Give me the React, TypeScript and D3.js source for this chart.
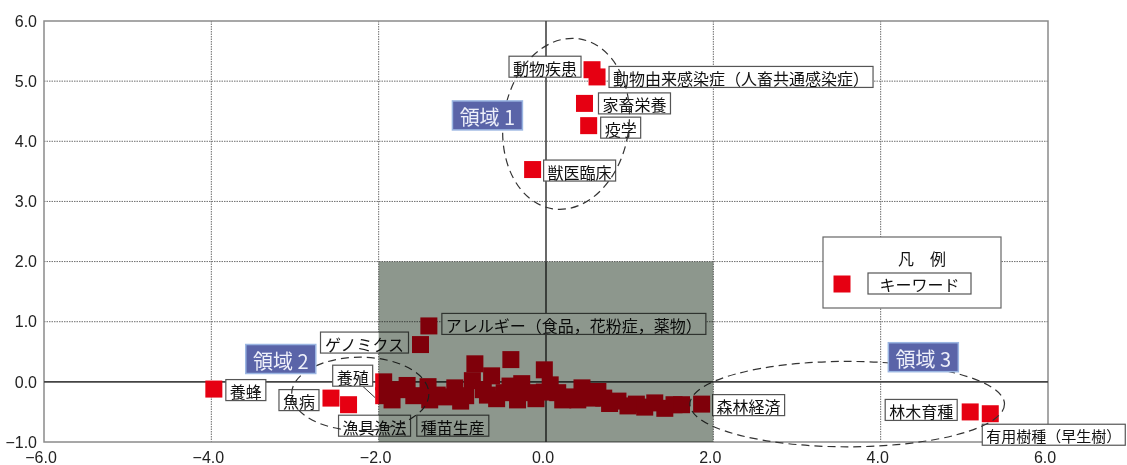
import React, { useEffect } from 'react';
import * as d3 from 'd3';

// chart data
const xTicks = [-6, -4, -2, 0, 2, 4, 6];
const yTicks = [-1, 0, 1, 2, 3, 4, 5, 6];

const keywords = [
  { name: '動物疾患', x: 0.55, y: 5.19 },
  { name: '動物由来感染症（人畜共通感染症）', x: 0.61, y: 5.07 },
  { name: '家畜栄養', x: 0.46, y: 4.63 },
  { name: '疫学', x: 0.51, y: 4.26 },
  { name: '獣医臨床', x: -0.16, y: 3.53 },
  { name: '養蜂', x: -3.97, y: -0.12 },
  { name: '魚病', x: -2.57, y: -0.27 },
  { name: '漁具漁法', x: -2.36, y: -0.38 },
  { name: '養殖', x: -1.94, y: -0.23 },
  { name: '種苗生産', x: -1.58, y: -0.23 },
  { name: 'ゲノミクス', x: -1.5, y: 0.62 },
  { name: 'アレルギー（食品，花粉症，薬物）', x: -1.4, y: 0.93 },
  { name: '森林経済', x: 1.86, y: -0.37 },
  { name: '林木育種', x: 5.07, y: -0.5 },
  { name: '有用樹種（早生樹）', x: 5.31, y: -0.53 },
];

// unlabeled keywords in the central cluster (overlapping markers, read approx.)
const clusterPoints: [number, number][] = [
  [-1.94, 0.0], [-1.77, -0.13], [-1.41, -0.08], [-1.2, -0.25], [-1.09, -0.1],
  [-0.96, -0.23], [-0.85, 0.3], [-0.88, 0.02], [-0.75, -0.13], [-0.65, 0.1],
  [-0.59, -0.28], [-0.42, 0.37], [-0.43, -0.07], [-0.29, -0.03], [-0.22, -0.18],
  [-0.02, 0.2], [-0.02, -0.17], [0.14, -0.18], [0.29, -0.25], [0.43, -0.1],
  [0.55, -0.27], [0.69, -0.27], [0.86, -0.32], [1.08, -0.37], [1.3, -0.35],
  [1.53, -0.38], [1.62, -0.38], [-1.39, -0.3],
  [-1.84, -0.3], [-1.66, -0.06], [-1.3, -0.22], [-1.02, -0.32], [-0.7, -0.22],
  [-0.5, -0.18], [-0.34, -0.3], [-0.12, -0.28], [0.05, -0.05], [0.2, -0.3],
  [0.38, -0.3], [0.62, -0.16], [0.76, -0.36], [0.98, -0.4], [1.18, -0.42], [1.42, -0.44],
];

const regions = [
  { name: '領域 1', x: -0.7, y: 4.43 },
  { name: '領域 2', x: -3.17, y: 0.38 },
  { name: '領域 3', x: 4.51, y: 0.41 },
];

// dashed ellipses round each region (centre, radii in data units, tilt)
const regionEllipses = [
  { cx: 0.24, cy: 4.29, rx: 0.75, ry: 1.43, rot: 9 },
  { cx: -2.22, cy: -0.2, rx: 0.82, ry: 0.61, rot: 0 },
  { cx: 3.6, cy: -0.37, rx: 1.88, ry: 0.71, rot: 0 },
];

const highlight = { x0: -2, x1: 2, y0: -1, y1: 2 };
const legendTitle = '凡　例';
const legendLabel = 'キーワード';

// label placement, relative to the marker centre (px)
const labelLayout: Record<string, { dx: number; dy: number; anchor: 'start' | 'end'; leader?: boolean; fs?: number }> = {
  '動物疾患': { dx: -11, dy: -3, anchor: 'end' },
  '動物由来感染症（人畜共通感染症）': { dx: 12, dy: 0, anchor: 'start' },
  '家畜栄養': { dx: 14, dy: 0, anchor: 'start' },
  '疫学': { dx: 12, dy: 2, anchor: 'start' },
  '獣医臨床': { dx: 11, dy: 1, anchor: 'start' },
  '養蜂': { dx: 12, dy: 1, anchor: 'start' },
  '魚病': { dx: -12, dy: 2, anchor: 'end' },
  '漁具漁法': { dx: -10, dy: 21, anchor: 'start' },
  '養殖': { dx: -11, dy: -20, anchor: 'end', leader: true },
  '種苗生産': { dx: 3, dy: 30, anchor: 'start' },
  'ゲノミクス': { dx: -12, dy: -2, anchor: 'end' },
  'アレルギー（食品，花粉症，薬物）': { dx: 13, dy: -2, anchor: 'start' },
  '森林経済': { dx: 11, dy: 1, anchor: 'start' },
  '林木育種': { dx: -13, dy: -2, anchor: 'end' },
  '有用樹種（早生樹）': { dx: -8, dy: 21, anchor: 'start', fs: 15 },
};

const W = 1127;
const H = 465;
const plot = { left: 44, right: 1048, top: 21, bottom: 442 };
const SQ = 17;
const RED = '#e60012';
const FONT_JP = '"Noto Sans CJK JP", sans-serif';
const FS = 16;

const textWidth = (s: string, fs: number) =>
  Array.from(s).reduce((w, c) => w + (c.charCodeAt(0) > 255 ? fs : fs * 0.55), 0);

const App: React.FC = () => {
  useEffect(() => {
    document.body.style.margin = '0';
  }, []);

  const x = d3.scaleLinear().domain([-6, 6]).range([plot.left, plot.right]);
  const y = d3.scaleLinear().domain([-1, 6]).range([plot.bottom, plot.top]);

  const labelBox = (name: string, px: number, py: number) => {
    const l = labelLayout[name];
    const fs = l.fs ?? FS;
    const w = textWidth(name, fs) + 8;
    const h = 21;
    const cy = py + l.dy;
    const bx = l.anchor === 'start' ? px + l.dx : px + l.dx - w;
    return { bx, by: cy - h / 2, w, h, cy, fs, leader: l.leader };
  };

  return (
    <svg width={W} height={H} style={{ display: 'block' }}>
      <rect width={W} height={H} fill="#ffffff" />

      {/* grid */}
      {yTicks.filter(t => t !== 0 && t !== -1 && t !== 6).map(t => (
        <line key={'gy' + t} x1={plot.left} x2={plot.right} y1={y(t)} y2={y(t)}
          stroke="#6e6e6e" strokeWidth={1} strokeDasharray="1.5 1" />
      ))}
      {xTicks.filter(t => t !== 0 && Math.abs(t) !== 6).map(t => (
        <line key={'gx' + t} x1={x(t)} x2={x(t)} y1={plot.top} y2={plot.bottom}
          stroke="#6e6e6e" strokeWidth={1} strokeDasharray="1.5 1" />
      ))}
      <rect x={plot.left} y={plot.top} width={plot.right - plot.left} height={plot.bottom - plot.top}
        fill="none" stroke="#8a8a8a" strokeWidth={1.5} />
      <line x1={plot.left} x2={plot.right} y1={y(0)} y2={y(0)} stroke="#444" strokeWidth={1.6} />
      <line x1={x(0)} x2={x(0)} y1={plot.top} y2={plot.bottom} stroke="#444" strokeWidth={1.6} />

      {/* tick labels */}
      {yTicks.map(t => (
        <text key={'ty' + t} x={37} y={y(t)} dy="0.36em" textAnchor="end"
          fontFamily='"Liberation Sans", sans-serif' fontSize={16} fill="#222">{d3.format('.1f')(t)}</text>
      ))}
      {xTicks.map(t => (
        <text key={'tx' + t} x={x(t) - 3} y={463} textAnchor="middle"
          fontFamily='"Liberation Sans", sans-serif' fontSize={16} fill="#222">{d3.format('.1f')(t)}</text>
      ))}

      {/* markers */}
      {clusterPoints.map((p, i) => (
        <rect key={'c' + i} x={x(p[0]) - SQ / 2} y={y(p[1]) - SQ / 2} width={SQ} height={SQ} fill={RED} />
      ))}
      {keywords.map(k => (
        <rect key={'k' + k.name} x={x(k.x) - SQ / 2} y={y(k.y) - SQ / 2} width={SQ} height={SQ} fill={RED} />
      ))}

      {/* keyword labels */}
      {keywords.map(k => {
        const px = x(k.x);
        const py = y(k.y);
        const b = labelBox(k.name, px, py);
        return (
          <g key={'l' + k.name}>
            {b.leader && (
              <line x1={b.bx + b.w - 10} y1={b.by + b.h} x2={px - SQ / 2} y2={py + 2} stroke="#333" strokeWidth={1} />
            )}
            <rect x={b.bx} y={b.by} width={b.w} height={b.h} fill="#fff" stroke="#555" strokeWidth={1.2} />
            <text x={b.bx + b.w / 2} y={b.cy + 1} textAnchor="middle" dominantBaseline="central"
              fontFamily={FONT_JP} fontSize={b.fs} fill="#111">{k.name}</text>
          </g>
        );
      })}

      {/* dashed region outlines */}
      {regionEllipses.map((e, i) => {
        const cx = x(e.cx);
        const cy = y(e.cy);
        return (
          <ellipse key={'e' + i} cx={cx} cy={cy} rx={x(e.rx) - x(0)} ry={y(0) - y(e.ry)}
            transform={`rotate(${e.rot} ${cx} ${cy})`}
            fill="none" stroke="#333" strokeWidth={1.2} strokeDasharray="8 5" />
        );
      })}

      {/* shaded central area */}
      <rect x={x(highlight.x0)} y={y(highlight.y1)} width={x(highlight.x1) - x(highlight.x0)}
        height={y(highlight.y0) - y(highlight.y1)} fill="#8d978d" style={{ mixBlendMode: 'multiply' }} />

      {/* region tags */}
      {regions.map(r => (
        <g key={r.name}>
          <rect x={x(r.x) - 35} y={y(r.y) - 14.5} width={70} height={29} fill="#5a64a8" stroke="#9bb6e2" strokeWidth={1.5} />
          <text x={x(r.x)} y={y(r.y) + 1} textAnchor="middle" dominantBaseline="central"
            fontFamily={FONT_JP} fontSize={20} fill="#eef0fa">{r.name}</text>
        </g>
      ))}

      {/* legend */}
      <g>
        <rect x={823} y={237} width={178} height={71} fill="#fff" stroke="#666" strokeWidth={1.2} />
        <text x={922} y={258} textAnchor="middle" dominantBaseline="central"
          fontFamily={FONT_JP} fontSize={16} fill="#111">{legendTitle}</text>
        <rect x={842 - SQ / 2} y={284 - SQ / 2} width={SQ} height={SQ} fill={RED} />
        <rect x={868} y={273} width={103} height={21} fill="#fff" stroke="#555" strokeWidth={1.2} />
        <text x={919.5} y={284} textAnchor="middle" dominantBaseline="central"
          fontFamily={FONT_JP} fontSize={16} fill="#111">{legendLabel}</text>
      </g>
    </svg>
  );
};

export default App;
